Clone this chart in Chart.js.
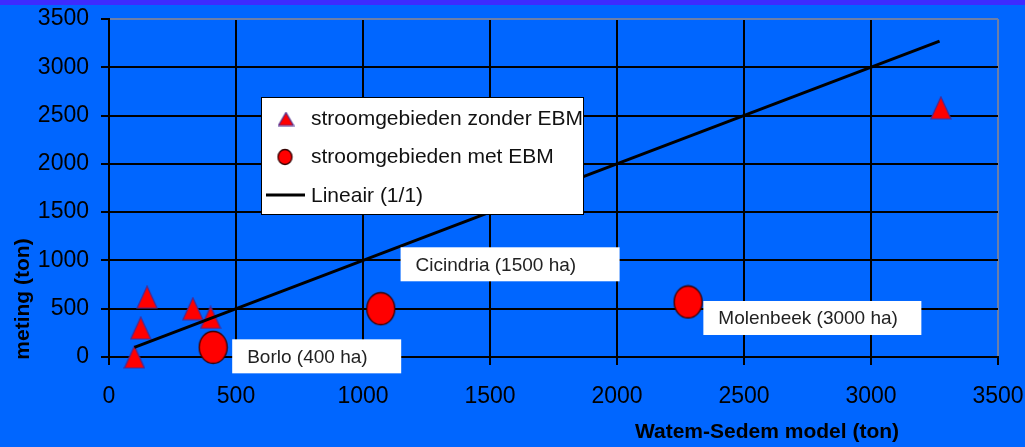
<!DOCTYPE html>
<html>
<head>
<meta charset="utf-8">
<script src="https://cdn.jsdelivr.net/npm/chart.js@4/dist/chart.umd.min.js"></script>
<style>
  html, body { margin: 0; padding: 0; background: #0066ff; }
  #c { display: block; }
</style>
</head>
<body>
<canvas id="c" width="1025" height="447"></canvas>
<script>
// stroomgebieden zonder EBM (triangles)
const zonderX = [100, 125, 150, 330, 400, 3275];
const zonderY = [0, 300, 620, 500, 410, 2580];
// stroomgebieden met EBM (circles)
const metX = [410, 1070, 2280];
const metY = [100, 500, 570];
// Lineair (1/1)
const lineX = [100, 3270];
const lineY = [100, 3270];
const tickValues = [0, 500, 1000, 1500, 2000, 2500, 3000, 3500];

// labels placed by data coords of box top-left corner
const labelTexts = ['Borlo (400 ha)', 'Cicindria (1500 ha)', 'Molenbeek (3000 ha)'];
const labelX = [485, 1148, 2340];
const labelY = [183, 1136, 580];
const labelW = [169, 219, 218];

const legendTexts = ['stroomgebieden zonder EBM', 'stroomgebieden met EBM', 'Lineair (1/1)'];

const toPoints = (xs, ys) => xs.map((x, i) => ({ x: x, y: ys[i] }));

function makeTriangle(w, h) {
    const c = document.createElement('canvas');
    c.width = w + 2; c.height = h + 2;
    const g = c.getContext('2d');
    g.beginPath();
    g.moveTo(1 + w / 2, 1);
    g.lineTo(1 + w, 1 + h);
    g.lineTo(1, 1 + h);
    g.closePath();
    g.fillStyle = '#ff0000';
    g.fill();
    g.strokeStyle = '#4a2a90';
    g.lineWidth = 1.2;
    g.stroke();
    return c;
}

function makeEllipse(rx, ry) {
    const c = document.createElement('canvas');
    c.width = rx * 2 + 3; c.height = ry * 2 + 3;
    const g = c.getContext('2d');
    g.beginPath();
    g.ellipse(c.width / 2, c.height / 2, rx, ry, 0, 0, Math.PI * 2);
    g.fillStyle = '#ff0000';
    g.fill();
    g.strokeStyle = '#300';
    g.lineWidth = 1.3;
    g.stroke();
    return c;
}

const triBig = makeTriangle(20, 22);
const circBig = makeEllipse(14, 16);
const triSmall = makeTriangle(15, 13);
const circSmall = makeEllipse(7, 7.5);

const decor = {
    id: 'decor',
    beforeDraw(chart) {
        const ctx = chart.ctx;
        ctx.save();
        ctx.fillStyle = '#0066ff';
        ctx.fillRect(0, 0, chart.width, chart.height);
        ctx.fillStyle = '#3d2bff';
        ctx.fillRect(0, 0, chart.width, 5);
        ctx.restore();
    },
    afterDraw(chart) {
        const ctx = chart.ctx;
        const xs = chart.scales.x, ys = chart.scales.y;
        ctx.save();

        // point labels
        ctx.font = '19px "Liberation Sans", Arial, sans-serif';
        ctx.textBaseline = 'middle';
        labelTexts.forEach((t, i) => {
            const px = xs.getPixelForValue(labelX[i]);
            const py = ys.getPixelForValue(labelY[i]);
            ctx.fillStyle = '#ffffff';
            ctx.fillRect(px, py, labelW[i], 34);
            ctx.fillStyle = '#222';
            ctx.fillText(t, px + 15, py + 18);
        });

        // legend
        const lx = 261, ly = 97, lw = 322, lh = 117;
        ctx.fillStyle = '#ffffff';
        ctx.fillRect(lx, ly, lw, lh);
        ctx.strokeStyle = '#000';
        ctx.lineWidth = 1;
        ctx.strokeRect(lx + 0.5, ly + 0.5, lw, lh);
        ctx.save();
        ctx.beginPath();
        ctx.rect(lx, ly, lw, lh);
        ctx.clip();
        ctx.font = '21px "Liberation Sans", Arial, sans-serif';
        ctx.fillStyle = '#111';
        const rows = [119, 157, 196];
        legendTexts.forEach((t, i) => ctx.fillText(t, 311, rows[i]));
        ctx.drawImage(triSmall, 286 - triSmall.width / 2, rows[0] - triSmall.height / 2);
        ctx.drawImage(circSmall, 285 - circSmall.width / 2, rows[1] - circSmall.height / 2);
        ctx.beginPath();
        ctx.moveTo(266, 195);
        ctx.lineTo(305, 195);
        ctx.lineWidth = 3;
        ctx.strokeStyle = '#000';
        ctx.stroke();
        ctx.restore();

        // axis titles
        ctx.fillStyle = '#000';
        ctx.font = 'bold 21px "Liberation Sans", Arial, sans-serif';
        ctx.textAlign = 'center';
        ctx.fillText('Watem-Sedem model (ton)', 767, 432);
        ctx.translate(23, 299);
        ctx.rotate(-Math.PI / 2);
        ctx.fillText('meting (ton)', 0, 0);
        ctx.restore();
    }
};

const tickFont = { family: '"Liberation Sans", Arial, sans-serif', size: 23 };
const plainTick = v => String(v);
const noPad = s => { s.paddingLeft = 0; s.paddingRight = 0; s.paddingTop = 0; s.paddingBottom = 0; };

new Chart(document.getElementById('c'), {
    type: 'scatter',
    data: {
        datasets: [
            {
                label: legendTexts[2],
                data: toPoints(lineX, lineY),
                showLine: true,
                borderColor: '#000',
                borderWidth: 3,
                pointRadius: 0,
                clip: false
            },
            {
                label: legendTexts[0],
                data: toPoints(zonderX, zonderY),
                pointStyle: triBig,
                pointRadius: 12,
                clip: false
            },
            {
                label: legendTexts[1],
                data: toPoints(metX, metY),
                pointStyle: circBig,
                pointRadius: 15,
                clip: false
            }
        ]
    },
    options: {
        responsive: false,
        animation: false,
        layout: { padding: { top: 19, right: 27, left: 0, bottom: 0 } },
        plugins: {
            legend: { display: false },
            tooltip: { enabled: false }
        },
        scales: {
            x: {
                type: 'linear',
                min: 0,
                max: 3500,
                afterBuildTicks: s => { s.ticks = tickValues.map(v => ({ value: v })); },
                afterFit: s => { s.height = 90; noPad(s); },
                ticks: { color: '#000', font: tickFont, padding: 18, maxRotation: 0, callback: plainTick },
                grid: {
                    color: c => (c.tick && c.tick.value === 3500 ? '#6d7fa8' : '#000'),
                    lineWidth: 2,
                    tickLength: 8,
                    tickColor: '#000'
                },
                border: { color: '#000', width: 2 }
            },
            y: {
                type: 'linear',
                min: 0,
                max: 3500,
                afterBuildTicks: s => { s.ticks = tickValues.map(v => ({ value: v })); },
                afterFit: s => { s.width = 109; noPad(s); },
                ticks: { color: '#000', font: tickFont, padding: 12, callback: plainTick },
                grid: {
                    color: c => (c.tick && c.tick.value === 3500 ? '#6d7fa8' : '#000'),
                    lineWidth: 2,
                    tickLength: 8,
                    tickColor: '#000'
                },
                border: { color: '#000', width: 2 }
            }
        }
    },
    plugins: [decor]
});
</script>
</body>
</html>
